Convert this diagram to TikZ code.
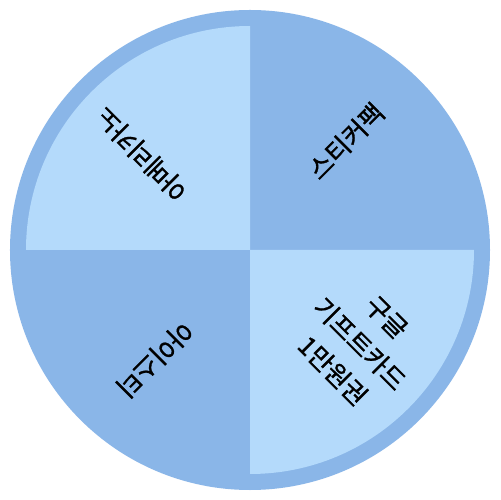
\documentclass[tikz,border=0pt]{standalone}
\usepackage{fontspec}
\newfontfamily\kr{Noto Sans CJK KR}[FakeBold=1.2]
\usetikzlibrary{calc}
\definecolor{wheeldark}{RGB}{138,182,232}
\definecolor{wheellight}{RGB}{180,218,251}
\tikzset{
  prize/.style={font=\kr\fontsize{14.6}{21.6}\selectfont, text=black, align=center, inner sep=0pt}
}
\begin{document}
\begin{tikzpicture}[x=0.02cm,y=0.02cm]
\useasboundingbox (-250,-250) rectangle (250,250);
\fill[white] (-250,-250) rectangle (250,250);
\node[circle, fill=wheeldark, minimum size=480*0.02cm, inner sep=0pt] (rim) at (0,0) {};
\fill[wheellight] (0,0) -- (180:224) arc[start angle=180, end angle=90, radius=224] -- cycle;
\fill[wheellight] (0,0) -- (0:224) arc[start angle=0, end angle=-90, radius=224] -- cycle;
\node[prize, rotate=135] (p1) at ($(135:145)+(225:9)$) {아메리카노};
\node[prize, rotate=45] (p2) at ($(45:145)+(135:9)$) {스티커팩};
\node[prize, rotate=-45] (p3) at ($(-45:144)+(45:11)$) {구글\\기프트카드\\1만원권};
\node[prize, rotate=225] (p4) at ($(225:145)+(315:10)$) {아이스티};
\end{tikzpicture}
\end{document}
